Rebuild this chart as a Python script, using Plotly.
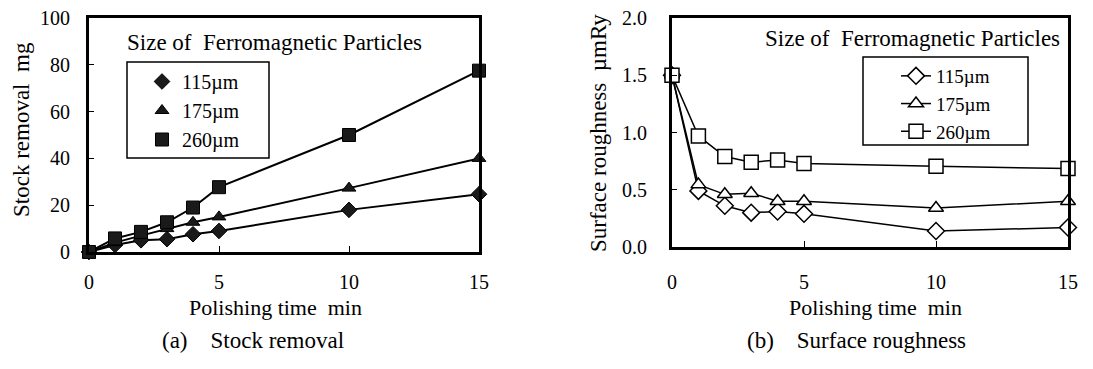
import plotly.graph_objects as go

time_min = [0, 1, 2, 3, 4, 5, 10, 15]
sizes = ["115µm", "175µm", "260µm"]

stock_115 = [0, 3, 5, 5.5, 7.6, 9, 18, 24.7]
stock_175 = [0, 4, 7, 10, 12.7, 15, 27.3, 40]
stock_260 = [0, 5.8, 8.6, 12.7, 19, 27.7, 50, 77.5]

rough_115 = [1.5, 0.49, 0.36, 0.30, 0.31, 0.29, 0.14, 0.17]
rough_175 = [1.5, 0.545, 0.46, 0.47, 0.40, 0.40, 0.34, 0.40]
rough_260 = [1.5, 0.97, 0.79, 0.74, 0.76, 0.73, 0.705, 0.685]

FONT = "Liberation Serif"
W, H = 1093, 369

fig = go.Figure()

stock = [stock_115, stock_175, stock_260]
rough = [rough_115, rough_175, rough_260]
syms = ["diamond", "triangle-up", "square"]
msize_a = [12, 12, 13]
msize_b = [13, 13, 14]

# (a) lines (no legend) then markers (legend shows markers only)
for name, ys in zip(sizes, stock):
    fig.add_trace(go.Scatter(
        x=time_min, y=ys, name=name, mode="lines", showlegend=False,
        line=dict(color="black", width=2), xaxis="x", yaxis="y",
    ))
for name, ys, s, ms in zip(sizes, stock, syms, msize_a):
    fig.add_trace(go.Scatter(
        x=time_min, y=ys, name=name, mode="markers",
        marker=dict(symbol=s, size=ms, color="#1a1a1a", line=dict(color="black", width=1)),
        xaxis="x", yaxis="y", legend="legend", cliponaxis=False,
    ))
# (b)
for name, ys, s, ms in zip(sizes, rough, syms, msize_b):
    fig.add_trace(go.Scatter(
        x=time_min, y=ys, name=name, mode="lines+markers",
        line=dict(color="black", width=1.5),
        marker=dict(symbol=s, size=ms, color="white", line=dict(color="black", width=1.5)),
        xaxis="x2", yaxis="y2", legend="legend2", cliponaxis=False,
    ))


def px_x(p):
    return p / W


def px_y(p):
    return 1 - p / H


axis_common = dict(
    showline=True, linecolor="black", linewidth=3, mirror=True,
    showgrid=False, zeroline=False, automargin=False,
    tickfont=dict(family=FONT, size=20, color="black"),
)

fig.update_layout(
    width=W, height=H,
    margin=dict(l=0, r=0, t=0, b=0, autoexpand=False),
    paper_bgcolor="white", plot_bgcolor="white",
    font=dict(family=FONT, color="black"),
    showlegend=True,
    xaxis=dict(domain=[px_x(89), px_x(479)], range=[0, 15], tickvals=[0, 5, 10, 15],
               ticks="inside", ticklen=6, tickcolor="black", ticklabelstandoff=10,
               anchor="y", **axis_common),
    yaxis=dict(domain=[px_y(252), px_y(18)], range=[0, 100], tickvals=[0, 20, 40, 60, 80, 100],
               ticks="inside", ticklen=5, tickcolor="black", ticklabelstandoff=12,
               anchor="x", **axis_common),
    xaxis2=dict(domain=[px_x(672), px_x(1068)], range=[0, 15], tickvals=[0, 5, 10, 15],
                ticks="inside", ticklen=6, tickcolor="black", ticklabelstandoff=15,
                anchor="y2", **axis_common),
    yaxis2=dict(domain=[px_y(247), px_y(18)], range=[0, 2], tickvals=[0, 0.5, 1.0, 1.5, 2.0],
                tickformat=".1f", ticks="inside", ticklen=5, tickcolor="black", ticklabelstandoff=18,
                anchor="x2", **axis_common),
    legend=dict(x=px_x(142), y=px_y(62), xanchor="left", yanchor="top",
                borderwidth=0, bgcolor="rgba(0,0,0,0)",
                font=dict(family=FONT, size=20, color="black"), tracegroupgap=0,
                itemwidth=30, traceorder="normal"),
    legend2=dict(x=px_x(896), y=px_y(57), xanchor="left", yanchor="top",
                 borderwidth=0, bgcolor="rgba(0,0,0,0)",
                 font=dict(family=FONT, size=19, color="black"), tracegroupgap=0,
                 itemwidth=30, traceorder="normal"),
    shapes=[
        dict(type="rect", xref="paper", yref="paper", x0=px_x(127), x1=px_x(269),
             y0=px_y(158), y1=px_y(62), line=dict(color="black", width=1.5),
             fillcolor="white", layer="above"),
        dict(type="rect", xref="paper", yref="paper", x0=px_x(863), x1=px_x(1028),
             y0=px_y(145), y1=px_y(57), line=dict(color="black", width=1.5),
             fillcolor="white", layer="above"),
    ],
)

ann = [
    dict(text="Size of  Ferromagnetic Particles", x=px_x(125), y=px_y(43), xanchor="left", yanchor="middle",
         font=dict(size=23)),
    dict(text="Size of  Ferromagnetic Particles", x=px_x(763), y=px_y(38), xanchor="left", yanchor="middle",
         font=dict(size=23)),
    dict(text="Stock removal  mg", x=px_x(22), y=px_y(130), textangle=-90, xanchor="center", yanchor="middle",
         font=dict(size=23)),
    dict(text="Surface roughness  µmRy", x=px_x(598), y=px_y(133), textangle=-90, xanchor="center", yanchor="middle",
         font=dict(size=23)),
    dict(text="Polishing time  min", x=px_x(275), y=px_y(307), xanchor="center", yanchor="middle",
         font=dict(size=22)),
    dict(text="Polishing time  min", x=px_x(875), y=px_y(307), xanchor="center", yanchor="middle",
         font=dict(size=22)),
    dict(text="(a)&nbsp;&nbsp;&nbsp;&nbsp;Stock removal", x=px_x(160), y=px_y(340), xanchor="left", yanchor="middle",
         font=dict(size=23)),
    dict(text="(b)&nbsp;&nbsp;&nbsp;&nbsp;Surface roughness", x=px_x(745), y=px_y(340), xanchor="left", yanchor="middle",
         font=dict(size=23)),
]
for a in ann:
    a.update(xref="paper", yref="paper", showarrow=False)
    a["font"].update(family=FONT, color="black")
fig.update_layout(annotations=ann)

fig.write_html("out.html")
